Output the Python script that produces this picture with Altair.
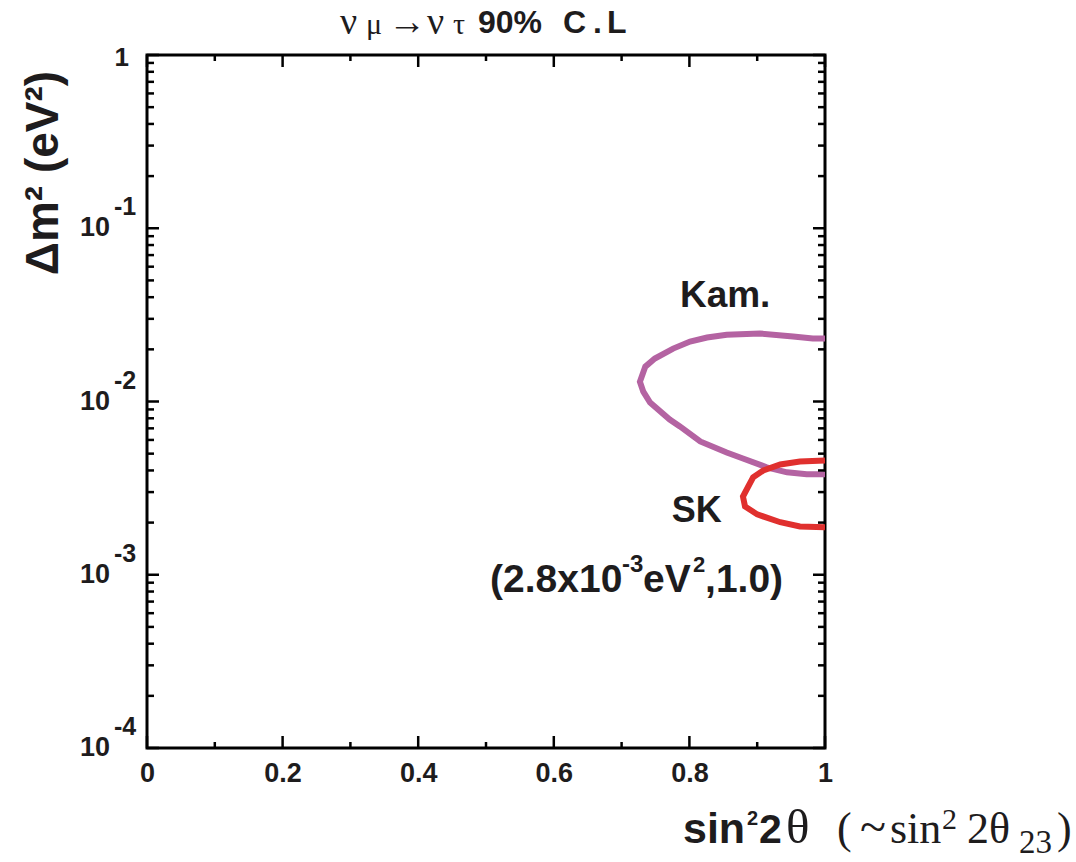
import altair as alt
import pandas as pd

# Kamiokande 90% C.L. allowed-region contour
kam_s = [1.0, 0.982, 0.953, 0.904, 0.855, 0.826, 0.801, 0.776, 0.749, 0.735, 0.727,
         0.732, 0.742, 0.771, 0.786, 0.816, 0.855, 0.879, 0.914, 0.944, 0.973, 1.0]
kam_dm2 = [0.0231, 0.0231, 0.0237, 0.0247, 0.0243, 0.0234, 0.0222, 0.0202, 0.0177, 0.0159, 0.0130,
           0.0114, 0.00987, 0.00787, 0.00718, 0.00588, 0.00508, 0.00469, 0.00417, 0.00390, 0.00380, 0.00380]

# Super-Kamiokande 90% C.L. allowed-region contour
sk_s = [1.0, 0.963, 0.934, 0.909, 0.894, 0.886, 0.879, 0.882, 0.900, 0.934, 0.963, 1.0]
sk_dm2 = [0.00457, 0.00451, 0.00433, 0.00400, 0.00365, 0.00319, 0.00283,
          0.00248, 0.00223, 0.00201, 0.00190, 0.00188]

# axis ticks and labels
x_major = [0, 0.2, 0.4, 0.6, 0.8, 1.0]
x_minor = [0.1, 0.3, 0.5, 0.7, 0.9]
y_major = [1, 0.1, 0.01, 0.001, 0.0001]
y_base = ["1", "10", "10", "10", "10"]
y_exp = ["", "-1", "-2", "-3", "-4"]
y_minor = [m * 10.0 ** k for k in range(-4, 0) for m in range(2, 10)]

W, H = 678, 693
X0, Y0 = 147, 55
SANS = "Liberation Sans"
SERIF = "Liberation Serif"
INK = "#1e1c1d"

xs = alt.Scale(domain=[0, 1], nice=False, zero=False)
ys = alt.Scale(type="log", domain=[1e-4, 1], nice=False)
x_axis = alt.Axis(values=x_major, format="~g", ticks=False, domain=False, grid=False,
                  labelFontSize=27, labelFont=SANS, labelFontWeight="bold",
                  labelColor=INK, labelPadding=12, labelFlush=False, title=None)

kam = pd.DataFrame({"s": kam_s, "dm2": kam_dm2, "i": range(len(kam_s))})
sk = pd.DataFrame({"s": sk_s, "dm2": sk_dm2, "i": range(len(sk_s))})


def contour(df, color):
    return alt.Chart(df).mark_line(color=color, strokeWidth=6, clip=True).encode(
        x=alt.X("s:Q", scale=xs, axis=x_axis),
        y=alt.Y("dm2:Q", scale=ys, axis=None),
        order="i:Q",
    )


def yticks(vals, length):
    df = pd.DataFrame({"v": vals})
    base = alt.Chart(df).mark_rule(color="black", strokeWidth=2.5)
    left = base.encode(x=alt.value(0), x2=alt.value(length),
                       y=alt.Y("v:Q", scale=ys, axis=None))
    right = base.encode(x=alt.value(W), x2=alt.value(W - length),
                        y=alt.Y("v:Q", scale=ys, axis=None))
    return [left, right]


def xticks(vals, length):
    df = pd.DataFrame({"v": vals})
    base = alt.Chart(df).mark_rule(color="black", strokeWidth=2.5)
    bottom = base.encode(y=alt.value(H), y2=alt.value(H - length),
                         x=alt.X("v:Q", scale=xs, axis=x_axis))
    top = base.encode(y=alt.value(0), y2=alt.value(length),
                      x=alt.X("v:Q", scale=xs, axis=x_axis))
    return [bottom, top]


def txt(s, px, py, size, font=SANS, weight="bold", align="left",
        baseline="alphabetic", angle=0):
    return alt.Chart(alt.Data(values=[{}])).mark_text(
        text=s, font=font, fontSize=size, fontWeight=weight, align=align,
        baseline=baseline, angle=angle, color=INK,
    ).encode(x=alt.value(px - X0), y=alt.value(py - Y0))


def note(s, sval, dval, size, dx=0, dy=0):
    df = pd.DataFrame({"s": [sval], "dm2": [dval]})
    return alt.Chart(df).mark_text(
        text=s, font=SANS, fontSize=size, fontWeight="bold", align="left",
        baseline="alphabetic", color=INK, dx=dx, dy=dy,
    ).encode(x=alt.X("s:Q", scale=xs, axis=x_axis),
             y=alt.Y("dm2:Q", scale=ys, axis=None))


ylab = pd.DataFrame({"v": y_major, "base": y_base, "exp": y_exp})
ylab10 = ylab[ylab["exp"] != ""]
ylab1 = ylab[ylab["exp"] == ""]

ylab_base = alt.Chart(ylab10).mark_text(
    font=SANS, fontSize=27, fontWeight="bold", align="right", baseline="middle", color=INK
).encode(x=alt.value(110 - X0), y=alt.Y("v:Q", scale=ys, axis=None), text="base:N")
ylab_exp = alt.Chart(ylab10).mark_text(
    font=SANS, fontSize=25, fontWeight="bold", align="left", baseline="middle",
    color=INK, dy=-21
).encode(x=alt.value(114 - X0), y=alt.Y("v:Q", scale=ys, axis=None), text="exp:N")
ylab_one = alt.Chart(ylab1).mark_text(
    font=SANS, fontSize=26, fontWeight="bold", align="right", baseline="middle",
    color=INK, dy=3
).encode(x=alt.value(129 - X0), y=alt.Y("v:Q", scale=ys, axis=None), text="base:N")

layers = [contour(kam, "#b463a2"), contour(sk, "#e0302e")]
layers += yticks(y_major, 12) + yticks(y_minor, 7)
layers += xticks(x_major, 12) + xticks(x_minor, 6)
layers += [ylab_base, ylab_exp, ylab_one]

# curve labels
layers += [
    note("Kam.", 0.786, 0.0351, 37),
    note("SK", 0.774, 0.00202, 36),
    note("(2.8x10", 0.506, 0.000796, 39),
    note("-3", 0.506, 0.000796, 24, dx=132, dy=-20),
    note("eV", 0.506, 0.000796, 39, dx=153),
    note("2", 0.506, 0.000796, 22, dx=203, dy=-20),
    note(",1.0)", 0.506, 0.000796, 39, dx=215),
]

# title: ν_μ → ν_τ 90% C.L
layers += [
    txt("ν", 340, 34, 38, font=SERIF, weight="normal"),
    txt("μ", 366, 34, 30, font=SERIF, weight="normal"),
    txt("→", 388, 34, 38, font=SERIF, weight="normal"),
    txt("ν", 427, 34, 38, font=SERIF, weight="normal"),
    txt("τ", 453, 34, 30, font=SERIF, weight="normal"),
    txt("90%", 478, 33, 32),
    txt("C", 563, 33, 32),
    txt(".", 593, 33, 32),
    txt("L", 607, 33, 32),
]

# y axis title
layers += [txt("Δm² (eV²)", 44, 173, 46, align="center", baseline="middle", angle=270)]

# x axis title: sin²2θ (~sin²2θ23)
layers += [
    txt("sin", 683, 843, 43),
    txt("2", 747, 825, 20),
    txt("2", 759, 843, 41),
    txt("θ", 786, 843, 49, font=SERIF, weight="normal"),
    txt("(", 837, 843, 44, font=SERIF, weight="normal"),
    txt("~", 860, 843, 48, font=SERIF, weight="normal"),
    txt("sin", 890, 843, 44, font=SERIF, weight="normal"),
    txt("2", 942, 829, 30, font=SERIF, weight="normal"),
    txt("2θ", 967, 843, 44, font=SERIF, weight="normal"),
    txt("23", 1019, 853, 33, font=SERIF, weight="normal"),
    txt(")", 1057, 843, 44, font=SERIF, weight="normal"),
]

chart = alt.layer(*layers).properties(
    width=W, height=H,
    autosize=alt.AutoSizeParams(type="none"),
    padding={"left": X0, "top": Y0, "right": 1076 - X0 - W, "bottom": 862 - Y0 - H},
    background="white",
).configure_view(stroke="black", strokeWidth=3)

chart.save("out.html", embed_options={"renderer": "svg", "actions": False})
